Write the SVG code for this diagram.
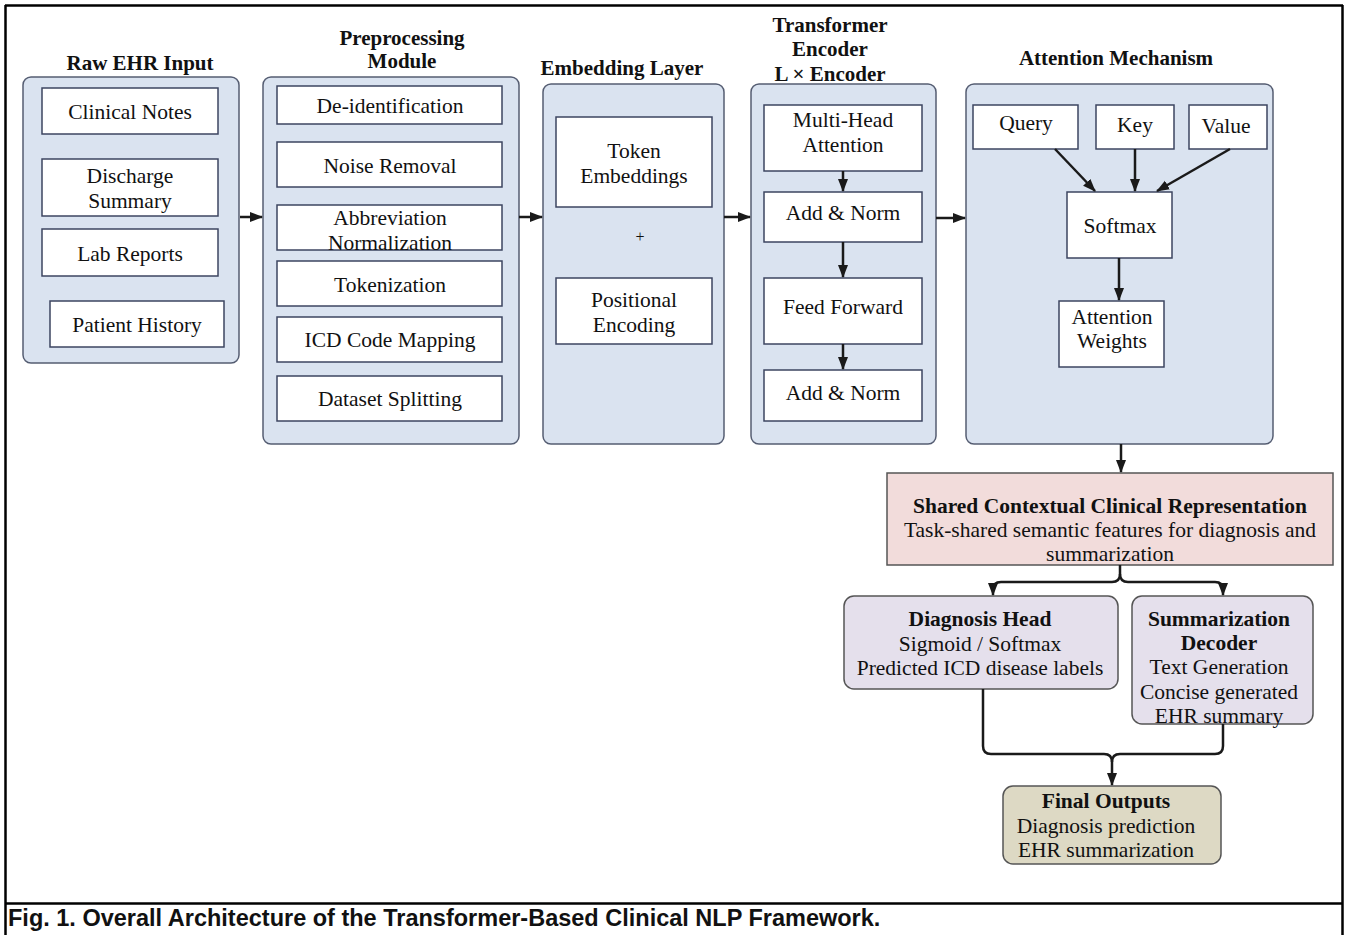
<svg xmlns="http://www.w3.org/2000/svg" width="1348" height="935" viewBox="0 0 1348 935">
<style>
  text { font-family: "Liberation Serif", "Times New Roman", serif; font-size: 21.5px; fill: #111; text-anchor: middle; }
  .title { font-weight: bold; font-size: 21px; }
  .b { font-weight: bold; }
  .cap { font-family: "Liberation Sans", Arial, sans-serif; font-weight: bold; font-size: 23.5px; text-anchor: start; }
  .cont { fill: #dae3f0; stroke: #555d72; stroke-width: 1.5; }
  .box { fill: #ffffff; stroke: #3d4560; stroke-width: 1.5; }
  .frame { stroke: #000; stroke-width: 2.5; fill: none; }
  .conn { stroke: #1a1a1a; stroke-width: 2.5; fill: none; }
</style>
<defs>
  <marker id="ah" markerUnits="userSpaceOnUse" markerWidth="13" markerHeight="12" viewBox="0 0 13 12" refX="12" refY="6" orient="auto">
    <path d="M0,1 L13,6 L0,11 Z" fill="#1a1a1a"/>
  </marker>
</defs>
<rect x="0" y="0" width="1348" height="935" fill="#fff"/>
<g id="frame">
  <line class="frame" x1="5" y1="5.5" x2="1343" y2="5.5"/>
  <line class="frame" x1="5.5" y1="5" x2="5.5" y2="935"/>
  <line class="frame" x1="1342.5" y1="5" x2="1342.5" y2="935"/>
  <line class="frame" x1="5" y1="903.5" x2="1343" y2="903.5"/>
</g>

<g id="raw-ehr-input">
  <text class="title" x="140" y="70">Raw EHR Input</text>
  <rect class="cont" x="23" y="77" width="216" height="286" rx="8"/>
  <rect class="box" x="42" y="88" width="176" height="46"/>
  <text x="130" y="119">Clinical Notes</text>
  <rect class="box" x="42" y="159" width="176" height="57"/>
  <text x="130" y="183">Discharge</text>
  <text x="130" y="208">Summary</text>
  <rect class="box" x="42" y="229" width="176" height="47"/>
  <text x="130" y="261">Lab Reports</text>
  <rect class="box" x="50" y="301" width="174" height="46"/>
  <text x="137" y="332">Patient History</text>
</g>

<g id="preprocessing-module">
  <text class="title" x="402" y="45">Preprocessing</text>
  <text class="title" x="402" y="68">Module</text>
  <rect class="cont" x="263" y="77" width="256" height="367" rx="8"/>
  <rect class="box" x="277" y="86" width="225" height="38"/>
  <text x="390" y="113">De-identification</text>
  <rect class="box" x="277" y="142" width="225" height="45"/>
  <text x="390" y="173">Noise Removal</text>
  <rect class="box" x="277" y="205" width="225" height="45"/>
  <text x="390" y="225">Abbreviation</text>
  <text x="390" y="250">Normalization</text>
  <rect class="box" x="277" y="261" width="225" height="45"/>
  <text x="390" y="292">Tokenization</text>
  <rect class="box" x="277" y="317" width="225" height="45"/>
  <text x="390" y="347">ICD Code Mapping</text>
  <rect class="box" x="277" y="376" width="225" height="45"/>
  <text x="390" y="406">Dataset Splitting</text>
</g>

<g id="embedding-layer">
  <text class="title" x="622" y="75">Embedding Layer</text>
  <rect class="cont" x="543" y="84" width="181" height="360" rx="8"/>
  <rect class="box" x="556" y="117" width="156" height="90"/>
  <text x="634" y="158">Token</text>
  <text x="634" y="183">Embeddings</text>
  <text x="640" y="242" style="font-size:16px">+</text>
  <rect class="box" x="556" y="278" width="156" height="66"/>
  <text x="634" y="307">Positional</text>
  <text x="634" y="332">Encoding</text>
</g>

<g id="transformer-encoder">
  <text class="title" x="830" y="32">Transformer</text>
  <text class="title" x="830" y="56">Encoder</text>
  <text class="title" x="830" y="81">L × Encoder</text>
  <rect class="cont" x="751" y="84" width="185" height="360" rx="8"/>
  <rect class="box" x="764" y="105" width="158" height="66"/>
  <text x="843" y="127">Multi-Head</text>
  <text x="843" y="152">Attention</text>
  <rect class="box" x="764" y="192" width="158" height="50"/>
  <text x="843" y="220">Add &amp; Norm</text>
  <rect class="box" x="764" y="278" width="158" height="66"/>
  <text x="843" y="314">Feed Forward</text>
  <rect class="box" x="764" y="370" width="158" height="51"/>
  <text x="843" y="400">Add &amp; Norm</text>
</g>

<g id="attention-mechanism">
  <text class="title" x="1116" y="65">Attention Mechanism</text>
  <rect class="cont" x="966" y="84" width="307" height="360" rx="8"/>
  <rect class="box" x="973" y="105" width="105" height="44"/>
  <text x="1026" y="130">Query</text>
  <rect class="box" x="1096" y="105" width="78" height="44"/>
  <text x="1135" y="132">Key</text>
  <rect class="box" x="1189" y="105" width="78" height="44"/>
  <text x="1226" y="133">Value</text>
  <rect class="box" x="1067" y="192" width="105" height="66"/>
  <text x="1120" y="233">Softmax</text>
  <rect class="box" x="1059" y="301" width="105" height="66"/>
  <text x="1112" y="324">Attention</text>
  <text x="1112" y="348">Weights</text>
</g>

<g id="shared-representation">
  <rect x="887" y="473" width="446" height="92" fill="#f2dcdb" stroke="#555" stroke-width="1.5"/>
  <text class="b" x="1110" y="513">Shared Contextual Clinical Representation</text>
  <text x="1110" y="537">Task-shared semantic features for diagnosis and</text>
  <text x="1110" y="561">summarization</text>
</g>

<g id="diagnosis-head">
  <rect x="844" y="596" width="274" height="93" rx="10" fill="#e5e0ec" stroke="#555" stroke-width="1.5"/>
  <text class="b" x="980" y="626">Diagnosis Head</text>
  <text x="980" y="651">Sigmoid / Softmax</text>
  <text x="980" y="675">Predicted ICD disease labels</text>
</g>

<g id="summarization-decoder">
  <rect x="1132" y="596" width="181" height="128" rx="10" fill="#e5e0ec" stroke="#555" stroke-width="1.5"/>
  <text class="b" x="1219" y="626">Summarization</text>
  <text class="b" x="1219" y="650">Decoder</text>
  <text x="1219" y="674">Text Generation</text>
  <text x="1219" y="699">Concise generated</text>
  <text x="1219" y="723">EHR summary</text>
</g>

<g id="final-outputs">
  <rect x="1003" y="786" width="218" height="78" rx="10" fill="#ddd9c4" stroke="#555" stroke-width="1.5"/>
  <text class="b" x="1106" y="808">Final Outputs</text>
  <text x="1106" y="833">Diagnosis prediction</text>
  <text x="1106" y="857">EHR summarization</text>
</g>

<g id="connectors">
  <line class="conn" x1="240" y1="217" x2="262" y2="217" marker-end="url(#ah)"/>
  <line class="conn" x1="519" y1="217" x2="542" y2="217" marker-end="url(#ah)"/>
  <line class="conn" x1="724" y1="217" x2="750" y2="217" marker-end="url(#ah)"/>
  <line class="conn" x1="936" y1="218" x2="965" y2="218" marker-end="url(#ah)"/>
  <line class="conn" x1="843" y1="171" x2="843" y2="191" marker-end="url(#ah)"/>
  <line class="conn" x1="843" y1="242" x2="843" y2="277" marker-end="url(#ah)"/>
  <line class="conn" x1="843" y1="344" x2="843" y2="369" marker-end="url(#ah)"/>
  <line class="conn" x1="1055" y1="149" x2="1095" y2="191" marker-end="url(#ah)"/>
  <line class="conn" x1="1135" y1="149" x2="1135" y2="191" marker-end="url(#ah)"/>
  <line class="conn" x1="1230" y1="149" x2="1157" y2="191" marker-end="url(#ah)"/>
  <line class="conn" x1="1119" y1="258" x2="1119" y2="300" marker-end="url(#ah)"/>
  <line class="conn" x1="1121" y1="444" x2="1121" y2="472" marker-end="url(#ah)"/>
  <path class="conn" d="M1120 565 V574 Q1120 582 1112 582 H1001 Q993 582 993 590 V595" marker-end="url(#ah)"/>
  <path class="conn" d="M1120 574 Q1120 582 1128 582 H1215 Q1223 582 1223 590 V595" marker-end="url(#ah)"/>
  <path class="conn" d="M983 689 V746 Q983 754 991 754 H1104 Q1112 754 1112 762 V785" marker-end="url(#ah)"/>
  <path class="conn" d="M1223 724 V746 Q1223 754 1215 754 H1120 Q1112 754 1112 762"/>
</g>

<text class="cap" x="8" y="926">Fig. 1. Overall Architecture of the Transformer-Based Clinical NLP Framework.</text>
</svg>
